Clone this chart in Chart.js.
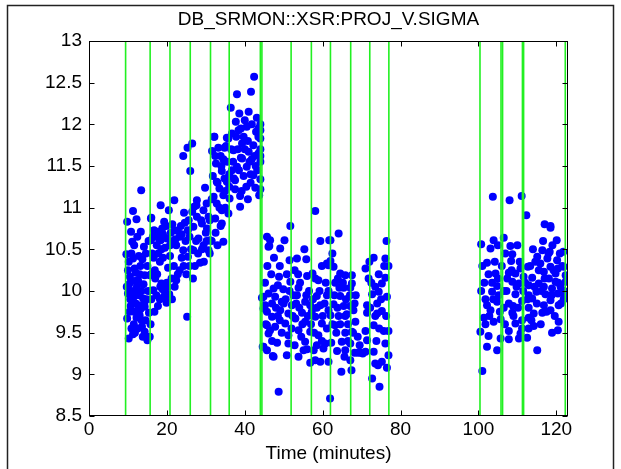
<!DOCTYPE html>
<html>
<head>
<meta charset="utf-8">
<script src="https://cdn.jsdelivr.net/npm/chart.js@4.4.1/dist/chart.umd.min.js"></script>
<style>
  html, body { margin: 0; padding: 0; background: #fff; }
  canvas { display: block; }
</style>
</head>
<body>
<canvas id="sigmaChart" width="621" height="469"></canvas>
<script>
// Tick labels
const xTicks = [0, 20, 40, 60, 80, 100, 120];
const yTicks = [8.5, 9, 9.5, 10, 10.5, 11, 11.5, 12, 12.5, 13];

// Green markers (minutes)
const markerTimes = [9.4, 15.7, 20.8, 26.0, 31.2, 36.0, 44.0, 44.4, 51.9, 57.1, 62.0, 67.2,
                     72.1, 77.0, 100.4, 105.8, 106.2, 111.3, 111.6, 122.3];

// Measurements [time (min), sigma]
const run1 = [
  [13.4,11.21],[11.3,10.96],[9.8,10.83],[12.2,10.86],[10.8,10.71],[13.3,10.71],[11.1,10.59],[14.1,10.53],
  [9.6,10.44],[11.3,10.39],[12.8,10.42],[10.0,10.25],[11.7,10.27],[10.5,10.17],[12.6,10.13],[14.3,10.19],
  [10.0,9.97],[12.2,9.99],[11.3,9.91],[13.9,9.91],[10.7,9.82],[12.6,9.83],[14.3,9.81],[9.8,9.67],
  [13.0,9.71],[15.4,9.74],[13.6,9.57],[11.3,9.48],[10.2,9.43],[14.3,9.51],[15.6,9.45],[15.0,9.41],
  [18.4,11.03],[21.9,11.09],[20.5,10.97],[24.4,10.94],[16.0,10.88],[19.3,10.83],[16.7,10.73],[17.7,10.71],
  [22.0,10.73],[23.3,10.65],[25.4,10.73],[18.4,10.61],[15.9,10.61],[22.4,10.55],[18.6,10.50],[24.2,10.49],
  [25.4,10.41],[18.2,10.35],[20.3,10.28],[16.9,10.25],[23.3,10.25],[15.6,10.19],[25.0,10.20],[22.4,10.13],
  [18.6,10.09],[20.3,10.05],[16.5,10.01],[19.9,9.95],[22.0,10.05],[17.7,9.82],[19.9,9.86],[25.2,9.69],
  [26.7,10.15],[27.6,11.03],[15.9,10.87],
  [17.2,10.68],[18.0,10.62],[19.0,10.68],[20.0,10.63],[21.0,10.70],[21.5,10.60],[22.8,10.72],[23.8,10.68],
  [24.8,10.60],[25.8,10.65],[20.8,10.55],[19.5,10.52],[18.9,10.02],[19.2,9.93],[20.0,10.10],[19.6,9.98],
  [18.3,10.05],[20.6,9.96],[17.0,10.15],[17.5,10.20],[10.3,10.08],[11.0,10.00],[11.8,10.12],[12.3,10.05],
  [13.0,10.20],[13.5,10.00],[14.0,10.08],[10.6,9.90],[12.0,9.85],[13.2,9.78],[11.5,9.60],[12.5,9.55],
  [14.5,9.65],[13.8,9.45],[14.8,9.90],[15.0,10.30],[14.6,10.45],[15.3,10.60],[16.2,10.45],[16.0,10.20],
  [9.7,10.05],[10.2,10.35],[10.9,10.45],[11.6,10.55],[12.4,10.65],[13.7,10.38],[13.2,10.30],[12.0,10.22],
  [10.8,10.12],[11.9,9.95],[12.9,9.95],[10.4,9.75],[11.6,9.75],[13.5,9.65],[12.2,9.68],[11.8,9.50],
  [10.9,9.55],[14.2,9.85],[15.2,10.00],[16.6,10.40],[17.4,10.55],[18.8,10.75],[19.8,10.78],[21.4,10.80],
  [22.2,10.62],[23.6,10.78],[24.6,10.82],[25.6,10.85],[16.4,10.65],[17.8,10.45],[19.0,10.40],[20.8,10.42],
  [21.8,10.30],[23.8,10.40],[22.8,10.20],[21.2,10.15],[24.3,10.30],[17.3,9.95],[18.2,9.90],[21.3,9.90],
  [16.8,9.75],[16.0,9.90],[15.8,9.60],[26.2,10.50],[25.8,10.30],[27.2,10.30],[28.0,10.45],[29.5,10.35],
  [24.2,11.62],[25.3,11.72],[26.5,11.77],[26.0,11.44],
  [42.4,12.57],[41.6,12.39],[38.0,12.36],[36.4,12.20],[38.6,12.13],[43.1,12.08],[37.7,12.03],[41.8,12.00],
  [40.5,11.97],[38.4,11.93],[36.7,11.89],[42.9,11.91],[32.1,11.85],[35.4,11.84],[39.7,11.85],[44.0,11.83],
  [33.2,11.72],[35.2,11.74],[39.3,11.77],[42.2,11.75],[37.1,11.69],[41.0,11.67],[43.5,11.65],[32.4,11.62],
  [34.5,11.58],[39.3,11.59],[41.8,11.58],[44.0,11.55],[38.0,11.49],[40.5,11.49],[34.1,11.44],[36.7,11.45],
  [31.8,11.38],[39.7,11.38],[42.2,11.39],[44.0,11.34],[32.8,11.31],[35.4,11.31],[37.5,11.33],[42.7,11.24],
  [29.8,11.24],[40.4,11.25],[33.5,11.23],[37.5,11.22],[34.5,11.15],[38.8,11.14],[32.0,11.13],[36.1,11.11],
  [27.7,11.09],[32.8,11.05],[38.8,11.01],[27.0,11.01],[29.4,10.97],[34.1,10.97],[35.8,10.93],[27.7,10.89],
  [30.7,10.89],[32.4,10.87],[34.1,10.81],[29.0,10.81],[26.8,10.77],[30.3,10.75],[28.1,10.63],[31.1,10.61],
  [34.5,10.59],[29.4,10.55],[30.7,10.49],[26.8,10.49],[28.5,10.34],
  [39.0,11.60],[40.0,11.70],[41.2,11.55],[42.5,11.62],[40.8,11.80],[38.2,11.70],[43.2,11.45],[37.0,11.55],
  [36.0,11.40],[35.0,11.20],[33.5,11.00],[31.0,10.85],[30.0,10.70],[28.8,10.85],[27.5,10.60],[26.5,10.95],
  [29.0,10.50],[31.5,10.60],[44.0,12.00],[44.0,11.93],[44.0,11.70],[44.0,11.62],[44.0,11.22],[32.2,11.85],
  [32.6,11.53],[31.6,11.68],[35.8,11.83],[34.8,11.72],
  [30.2,10.60],[31.0,10.45],[32.5,10.70],[33.0,10.55],[33.8,10.78],[35.0,11.00],[30.2,11.05],[31.5,11.10],
  [33.0,11.30],[34.0,11.50],[35.5,11.55],[36.5,11.70],[37.8,11.85],[39.0,11.95],[40.0,12.05],[41.0,12.15],
  [41.5,11.40],[42.8,11.50],[43.5,11.85],[43.5,11.95],[38.5,11.45],[37.2,11.35],[36.0,11.25],[34.8,11.35],
  [33.8,11.62],[40.8,11.10],[39.2,11.20],[43.7,11.15],[41.5,11.30]
];

const run2 = [
  [51.7,10.78],[45.7,10.65],[46.5,10.61],[50.2,10.61],[46.1,10.53],[49.1,10.51],[55.3,10.50],[59.4,10.60],
  [61.7,10.61],[51.5,10.37],[53.4,10.39],[55.8,10.38],[52.8,10.25],[59.8,10.30],[61.1,10.33],[53.7,10.20],
  [56.0,10.18],[48.8,10.17],[58.1,10.15],[48.5,10.07],[51.7,10.11],[47.4,10.03],[49.9,10.02],[53.8,10.04],
  [46.1,9.97],[44.8,9.93],[47.8,9.93],[53.4,9.95],[58.5,9.94],[61.1,9.95],[49.5,9.87],[55.5,9.87],
  [45.2,9.83],[47.0,9.85],[52.1,9.83],[56.8,9.83],[59.4,9.83],[45.7,9.75],[49.1,9.77],[51.2,9.73],
  [54.7,9.74],[61.5,9.77],[47.0,9.69],[53.0,9.67],[58.1,9.69],[50.4,9.61],[45.7,9.59],[55.5,9.63],
  [59.8,9.61],[47.8,9.57],[53.8,9.53],[56.8,9.51],[61.1,9.55],[46.1,9.49],[51.2,9.47],[58.9,9.47],
  [48.3,9.38],[51.2,9.37],[55.5,9.39],[60.7,9.37],[44.8,9.33],[45.7,9.29],[55.1,9.29],[57.7,9.29],
  [60.2,9.31],[47.4,9.21],[50.8,9.23],[53.8,9.21],[59.4,9.15],[56.8,9.14],[58.1,9.17],[48.7,8.79],
  [61.9,8.71],[58.1,10.96],[44.4,9.92],[44.8,9.79],[44.6,9.33],[47.2,9.22],[46.3,10.54],[45.4,9.60],
  [46.5,9.53],
  [64.1,10.69],[62.0,10.61],[76.4,10.60],[62.5,10.45],[73.1,10.40],[76.1,10.39],[61.5,10.31],[62.8,10.29],
  [76.9,10.30],[71.0,10.27],[64.5,10.21],[65.8,10.19],[71.8,10.15],[74.4,10.20],[63.9,10.15],[76.1,10.16],
  [67.5,10.09],[64.3,10.04],[65.4,10.04],[67.1,10.04],[73.5,10.05],[75.2,10.09],[64.5,9.94],[72.7,9.96],
  [74.4,9.99],[76.5,9.93],[62.8,9.84],[65.4,9.82],[67.1,9.82],[71.4,9.83],[74.0,9.85],[67.9,9.77],
  [62.0,9.71],[64.1,9.70],[66.2,9.72],[71.4,9.74],[74.0,9.73],[75.2,9.76],[63.2,9.59],[68.4,9.63],
  [73.1,9.59],[75.7,9.52],[76.9,9.52],[65.8,9.50],[67.5,9.51],[71.0,9.52],[62.2,9.38],[64.9,9.39],
  [67.1,9.37],[71.4,9.41],[76.1,9.37],[63.7,9.28],[65.8,9.29],[68.2,9.26],[69.7,9.26],[71.0,9.27],
  [70.3,9.25],[69.0,9.26],[73.1,9.27],[76.9,9.23],[65.6,9.21],[61.5,9.15],[67.1,9.17],[73.5,9.13],
  [75.2,9.15],[64.8,9.03],[67.4,9.05],[74.2,9.11],[76.5,9.08],[72.7,8.95],[74.6,8.85],
  [50.0,9.85],[52.5,9.95],[54.0,9.80],[56.2,9.70],[57.5,9.90],[49.0,9.65],[52.0,9.55],[54.5,9.45],
  [57.0,9.60],[60.0,9.70],[63.0,9.95],[66.0,9.90],[68.5,9.95],[63.5,9.50],[66.5,9.60],[69.0,9.45],
  [62.0,10.36],[67.5,10.19],[57.4,10.21],[58.9,10.13],
  [45.2,10.10],[45.8,10.30],[46.8,10.20],[47.5,10.40],[48.0,9.80],[48.5,9.70],[49.5,9.50],[50.5,9.90],
  [50.8,10.20],[51.5,10.00],[52.3,9.70],[53.2,9.85],[54.2,10.10],[54.8,9.60],[55.8,9.95],[56.5,10.00],
  [57.2,9.75],[57.8,9.50],[58.5,9.80],[59.2,10.00],[59.8,9.40],[60.5,9.85],[60.8,10.10],[61.5,10.00],
  [62.5,9.60],[63.2,10.10],[63.8,9.80],[64.5,9.60],[65.2,10.10],[65.8,9.70],[66.5,9.40],[67.0,9.95],
  [67.8,9.50],[68.2,9.85],[69.5,9.35],[72.2,9.80],[72.5,10.10],[73.5,9.70],[74.5,9.55],[75.0,9.90],
  [75.8,10.30],[76.3,9.70],[73.8,9.40],[72.0,10.35],[49.0,10.30],[47.0,9.40],[52.8,9.35],[56.0,9.30],
  [58.5,9.35]
];

const run3 = [
  [103.7,11.13],[108.0,11.09],[111.1,11.14],[112.3,10.91],[118.5,10.76],
  [117.0,10.80],[118.5,10.78],[106.5,10.64],[103.9,10.61],[100.7,10.56],[120.1,10.61],[108.2,10.54],
  [103.1,10.51],[116.4,10.49],[118.3,10.47],[106.9,10.45],[108.7,10.44],[121.8,10.47],[120.9,10.45],
  [115.1,10.41],[117.7,10.39],[108.4,10.36],[114.6,10.35],[102.2,10.34],[120.2,10.37],[115.9,10.33],
  [112.7,10.29],[110.8,10.27],[118.5,10.29],[120.4,10.27],[121.9,10.29],[116.8,10.23],[102.6,10.20],
  [104.4,10.21],[107.8,10.22],[109.5,10.21],[119.8,10.21],[122.4,10.19],[111.6,10.17],[107.4,10.15],
  [113.8,10.16],[118.1,10.15],[103.5,10.10],[108.7,10.11],[110.4,10.09],[115.5,10.09],[119.8,10.11],
  [122.4,10.11],[104.8,10.06],[112.9,10.07],[116.8,10.05],[118.9,10.03],[121.1,10.05],[100.7,10.00],
  [103.5,9.99],[106.5,10.00],[111.5,10.00],[114.9,9.99],[117.2,9.96],[120.4,9.97],[122.1,9.94],
  [105.2,9.95],[109.5,9.96],[112.9,9.95],[101.8,9.90],[104.8,9.87],[111.2,9.88],[113.8,9.91],
  [118.5,9.89],[121.9,9.90],[102.2,9.83],[106.5,9.80],[108.9,9.82],[112.9,9.80],[116.8,9.83],
  [120.6,9.83],[103.1,9.77],[118.5,9.77],[108.7,9.74],[114.2,9.73],[116.4,9.74],[101.4,9.68],
  [105.7,9.66],[112.9,9.68],[111.2,9.65],[103.9,9.63],[120.6,9.63],[109.5,9.61],[101.8,9.60],
  [114.2,9.58],[112.9,9.55],[107.8,9.52],[100.5,9.51],[118.9,9.50],[120.4,9.53],[110.8,9.49],
  [102.6,9.46],[105.7,9.43],[112.5,9.44],[107.8,9.42],[110.4,9.43],[102.2,9.33],[104.8,9.29],
  [115.1,9.29],[101.0,9.04],
  [101.0,10.30],[101.5,10.10],[102.8,9.70],[103.8,9.90],[104.2,10.35],[105.0,10.15],[105.5,9.75],
  [106.0,10.30],[106.8,9.60],[107.2,10.00],[107.8,9.85],[108.5,10.25],[109.0,9.70],[109.8,10.05],
  [110.2,9.80],[110.6,10.35],[111.2,9.55],[112.0,10.10],[112.6,9.90],[113.3,10.30],[113.6,9.65],
  [114.4,10.05],[115.0,9.85],[115.5,10.25],[116.0,9.60],[116.2,10.00],[117.0,10.15],[117.5,9.75],
  [118.0,10.45],[118.8,9.95],[119.3,10.25],[119.6,9.70],[120.5,10.10],[121.2,9.85],[121.5,10.30],
  [122.0,10.00],[119.0,10.55],[116.6,10.60],[114.0,10.50],[110.0,10.55],[105.0,10.55]
];

const labelFont = { family: 'Liberation Sans, Arial, sans-serif', size: 19 };

const toPoints = arr => arr.map(p => ({ x: p[0], y: p[1] }));

const markerSets = markerTimes.map(t => ({
  type: 'line',
  data: [{ x: t, y: yTicks[0] }, { x: t, y: yTicks[yTicks.length - 1] }],
  borderColor: '#22f022',
  borderWidth: 1.6,
  pointRadius: 0,
  showLine: true,
  order: 0
}));

const dotSet = {
  type: 'scatter',
  data: toPoints(run1.concat(run2, run3)),
  backgroundColor: '#0000ff',
  borderWidth: 0,
  pointRadius: 4,
  order: 1
};

// MATLAB-like box with inward ticks and outer figure frame
const matlabBox = {
  id: 'matlabBox',
  afterDraw(chart) {
    const { ctx, chartArea: a, scales } = chart;
    ctx.save();
    ctx.strokeStyle = '#000';
    ctx.lineWidth = 1;
    const L = Math.round(a.left) + 0.5, R = Math.round(a.right) - 0.5;
    const T = Math.round(a.top) + 0.5, B = Math.round(a.bottom) - 0.5;
    ctx.strokeRect(L, T, R - L, B - T);
    ctx.beginPath();
    xTicks.forEach(v => {
      const px = Math.round(scales.x.getPixelForValue(v)) + 0.5;
      ctx.moveTo(px, B); ctx.lineTo(px, B - 5);
      ctx.moveTo(px, T); ctx.lineTo(px, T + 5);
    });
    yTicks.forEach(v => {
      const py = Math.round(scales.y.getPixelForValue(v)) + 0.5;
      ctx.moveTo(L, py); ctx.lineTo(L + 5, py);
      ctx.moveTo(R, py); ctx.lineTo(R - 5, py);
    });
    ctx.stroke();
    // outer frame
    ctx.strokeStyle = '#222';
    ctx.lineWidth = 1.5;
    ctx.strokeRect(7.5, 5.5, 606, 480);
    ctx.restore();
  }
};

new Chart(document.getElementById('sigmaChart'), {
  data: { datasets: markerSets.concat([dotSet]) },
  options: {
    responsive: false,
    animation: false,
    devicePixelRatio: 1,
    layout: { padding: { left: 0, right: 53, top: 0, bottom: 0 } },
    plugins: {
      legend: { display: false },
      tooltip: { enabled: false },
      title: {
        display: true,
        fullSize: false,
        text: 'DB_SRMON::XSR:PROJ_V.SIGMA',
        color: '#000',
        font: { family: labelFont.family, size: 19, weight: 'normal' },
        padding: { top: 8, bottom: 10.2 }
      }
    },
    scales: {
      x: {
        type: 'linear',
        position: 'bottom',
        min: 0,
        max: 123,
        afterBuildTicks: s => { s.ticks = xTicks.map(v => ({ value: v })); },
        afterFit: s => { s.height = 53; },
        grid: { display: false, drawTicks: false },
        border: { display: false },
        ticks: { color: '#000', font: labelFont, padding: 2, maxRotation: 0, autoSkip: false },
        title: {
          display: true,
          text: 'Time (minutes)',
          color: '#000',
          font: labelFont,
          padding: { top: 0, bottom: 4 }
        }
      },
      y: {
        type: 'linear',
        min: 8.5,
        max: 13,
        afterBuildTicks: s => { s.ticks = yTicks.map(v => ({ value: v })); },
        afterFit: s => { s.width = 89; },
        grid: { display: false, drawTicks: false },
        border: { display: false },
        ticks: { color: '#000', font: labelFont, padding: 7, autoSkip: false,
                 callback: v => String(v) }
      }
    }
  },
  plugins: [matlabBox]
});
</script>
</body>
</html>
